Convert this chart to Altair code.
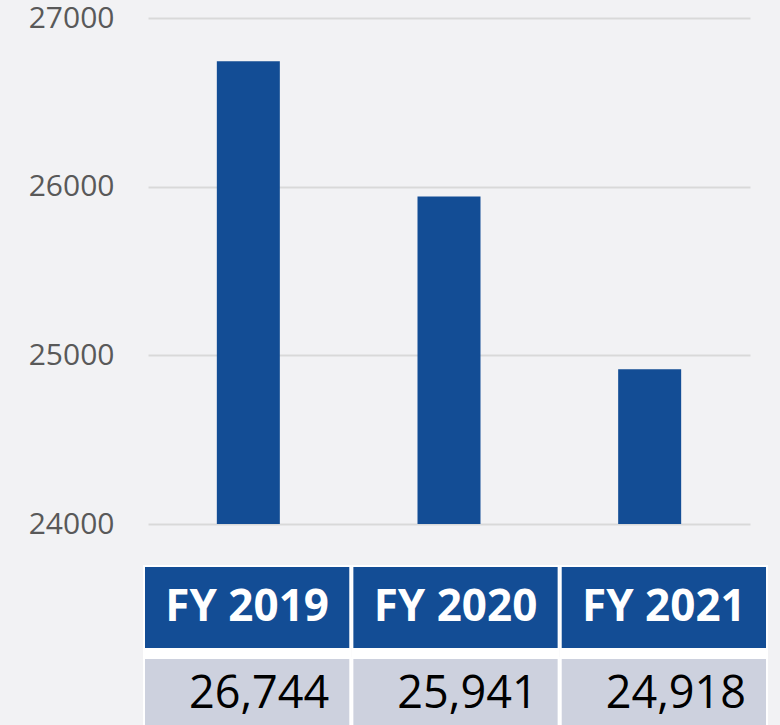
import altair as alt
import pandas as pd

years = ["FY 2019", "FY 2020", "FY 2021"]
values = [26744, 25941, 24918]
value_labels = ["26,744", "25,941", "24,918"]
y_ticks = [24000, 25000, 26000, 27000]

BLUE = "#134d95"
GRAY = "#cdd1de"
BG = "#f2f2f4"
FONT = "Open Sans"

df = pd.DataFrame({"year": years, "value": values, "label": value_labels})

bars = alt.Chart(df).mark_bar(size=63, color=BLUE, clip=True).encode(
    x=alt.X("year:N", sort=years, axis=None,
            scale=alt.Scale(paddingInner=0, paddingOuter=0)),
    y=alt.Y("value:Q",
            scale=alt.Scale(domain=[24000, 27000], zero=False, nice=False),
            axis=alt.Axis(values=y_ticks, format="d", title=None, domain=False,
                          ticks=False, labelFontSize=30, labelColor="#595959",
                          labelPadding=34, labelFont=FONT,
                          gridColor="#d9d9d9", gridWidth=2)),
).properties(width=602, height=506)

tscale = alt.Scale(range=[-4, 619], paddingInner=0.01, paddingOuter=0)
xs = alt.X("year:N", sort=years, axis=None, scale=tscale)

hbase = alt.Chart(df).encode(x=xs)
header = alt.layer(
    hbase.mark_rect(color=BLUE, stroke="white", strokeWidth=2),
    hbase.mark_text(color="white", fontSize=44, fontWeight="bold", font=FONT,
                    baseline="middle").encode(text="year:N"),
).properties(width=615, height=83)

vbase = alt.Chart(df).encode(x=xs)
vrow = alt.layer(
    vbase.mark_rect(color="white", stroke="white", strokeWidth=2),
    vbase.mark_rect(color=GRAY, stroke="white", strokeWidth=2, yOffset=7),
    vbase.mark_text(color="black", fontSize=45, font=FONT, align="right",
                    baseline="middle", dx=-21, dy=4).encode(
        x=alt.X("year:N", sort=years, axis=None, bandPosition=1, scale=tscale),
        text="label:N"),
).properties(width=615, height=77)

table = alt.vconcat(header, vrow, spacing=0)

chart = alt.vconcat(bars, table, spacing=26).properties(
    background=BG,
    padding={"left": 28, "top": 3, "right": 12, "bottom": 0},
).configure_view(strokeWidth=0)

chart.save("out.html", embed_options={"renderer": "svg", "actions": False})
